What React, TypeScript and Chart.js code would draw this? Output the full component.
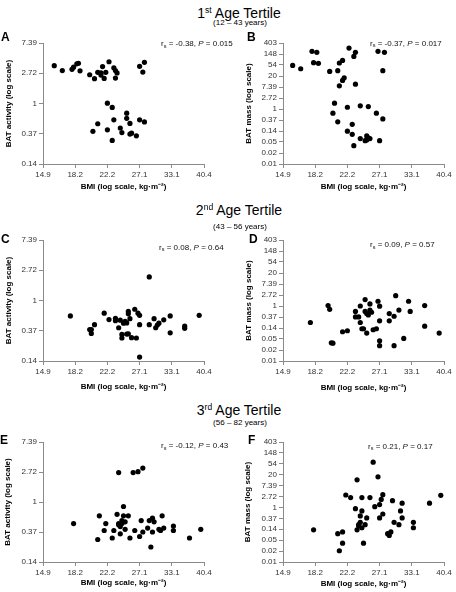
import React, { useEffect, useRef } from 'react';
import { Chart, registerables } from 'chart.js';

Chart.register(...registerables);

const FONT = 'Arial, "Liberation Sans", Helvetica, sans-serif';

// Axis ticks (plotted in natural-log units, labelled with e^n values)
const bmiTickLn = [2.7, 2.9, 3.1, 3.3, 3.5, 3.7];
const bmiTickLabels = ['14.9', '18.2', '22.2', '27.1', '33.1', '40.4'];
const activityTickLn = [-2, -1, 0, 1, 2];
const activityTickLabels = ['0.14', '0.37', '1', '2.72', '7.39'];
const massTickLn = [-5, -4, -3, -2, -1, 0, 1, 2, 3, 4, 5, 6];
const massTickLabels = ['0.01', '0.02', '0.05', '0.14', '0.37', '1', '2.72', '7.39', '20', '54', '148', '403'];

const tertileTitles = [
  { ord: '1', sup: 'st', range: '(12 – 43 years)' },
  { ord: '2', sup: 'nd', range: '(43 – 56 years)' },
  { ord: '3', sup: 'rd', range: '(56 – 82 years)' },
];
const panelLetters = ['A', 'B', 'C', 'D', 'E', 'F'];
const rsValues = ['-0.38', '-0.37', '0.08', '0.09', '-0.12', '0.21'];
const pValues = ['0.015', '0.017', '0.64', '0.57', '0.43', '0.17'];

// [ln BMI, ln BAT activity] — 1st tertile
const panelA: number[][] = [
  [2.77, 1.25], [2.82, 1.09], [2.88, 1.13], [2.89, 1.2], [2.91, 1.31], [2.92, 1.33], [2.93, 1.08],
  [2.99, 0.95], [3.02, 0.82], [3.04, 1.03], [3.06, 0.94], [3.06, 1.01], [3.07, 1.22], [3.08, 0.83],
  [3.09, 1.03], [3.11, 1.38], [3.14, 1.18], [3.15, 1.09], [3.16, 1.01], [3.15, 0.84], [3.3, 1.23],
  [3.32, 1.04], [3.33, 1.36],
  [3.1, 0.01], [3.13, -0.13], [3.22, -0.32], [3.14, -0.54], [3.22, -0.49], [3.24, -0.66], [3.04, -0.67],
  [3.01, -0.92], [3.1, -0.87], [3.18, -0.81], [3.19, -0.96], [3.24, -1.01], [3.25, -0.98], [3.28, -1.07],
  [3.13, -1.22], [3.3, -0.54], [3.33, -0.61],
];
// [ln BMI, ln BAT mass] — 1st tertile
const panelB: number[][] = [
  [2.76, 3.96], [2.81, 3.66], [2.88, 5.24], [2.91, 5.15], [2.89, 4.21], [2.92, 4.15], [2.99, 3.42],
  [3.04, 3.48], [3.05, 4.18], [3.07, 4.42], [3.11, 5.54], [3.14, 4.78], [3.15, 5.15], [3.07, 2.6],
  [3.08, 2.84], [3.05, 2.11], [3.15, 2.26], [3.29, 5.24], [3.33, 5.15], [3.32, 3.48],
  [3.02, 0.53], [3.01, -0.38], [3.1, 0.16], [3.18, 0.29], [3.23, 0.22], [3.28, -0.38], [3.32, -0.9],
  [3.04, -1.17], [3.13, -1.39], [3.1, -2.02], [3.13, -2.3], [3.18, -2.69], [3.14, -3.33], [3.22, -2.45],
  [3.23, -2.63], [3.22, -2.81], [3.24, -2.69], [3.21, -2.88], [3.3, -2.88],
];
// 2nd tertile
const panelC: number[][] = [
  [2.87, -0.51], [2.99, -0.96], [3.0, -0.96], [3.0, -1.09], [3.02, -0.8], [3.08, -0.42], [3.11, -0.63],
  [3.15, -0.59], [3.15, -0.67], [3.17, -0.9], [3.18, -0.65], [3.19, -1.12], [3.19, -1.24], [3.2, -0.75],
  [3.21, -0.69], [3.22, -1.11], [3.22, -0.74], [3.23, -1.1], [3.23, -0.44], [3.23, -0.36], [3.24, -0.6],
  [3.25, -1.23], [3.27, -0.29], [3.28, -1.24], [3.29, -0.42], [3.3, -0.49], [3.3, -0.8], [3.3, -1.87],
  [3.36, 0.78], [3.36, -0.8], [3.39, -0.6], [3.4, -0.9], [3.41, -0.81], [3.42, -0.75], [3.45, -0.64],
  [3.49, -1.07], [3.49, -0.51], [3.58, -0.92], [3.58, -0.85], [3.67, -0.49],
];
const panelD: number[][] = [
  [2.87, -1.5], [2.98, 0.04], [2.99, -0.3], [3.0, -3.35], [3.01, -3.38], [3.07, -2.34], [3.1, -2.25],
  [3.15, -0.49], [3.15, -0.99], [3.17, -0.99], [3.18, 0.0], [3.18, -1.5], [3.19, -2.07], [3.2, -2.07],
  [3.21, 0.58], [3.21, -0.49], [3.22, -0.69], [3.22, -2.46], [3.23, -0.81], [3.24, 0.19], [3.24, -0.37],
  [3.25, -0.57], [3.26, -2.16], [3.28, -2.07], [3.29, 0.43], [3.3, -3.16], [3.3, -0.02], [3.3, -1.35],
  [3.3, -3.61], [3.36, -0.69], [3.36, -1.35], [3.39, -0.93], [3.39, -3.61], [3.4, 0.94], [3.42, -0.37],
  [3.45, -2.95], [3.48, 0.43], [3.49, -0.49], [3.58, 0.04], [3.58, -1.83], [3.67, -2.46],
];
// 3rd tertile
const panelE: number[][] = [
  [2.89, -0.72], [3.04, -1.25], [3.05, -0.46], [3.08, -0.95], [3.09, -0.72], [3.13, -1.2], [3.14, -0.95],
  [3.16, -0.41], [3.17, -0.72], [3.17, 0.98], [3.17, -0.76], [3.18, -0.82], [3.18, -1.06], [3.19, -0.72],
  [3.19, -0.62], [3.2, -0.46], [3.2, -0.15], [3.21, -0.66], [3.21, -0.91], [3.23, -0.46], [3.24, -1.2],
  [3.26, 0.98], [3.27, -0.95], [3.29, 1.01], [3.3, -1.15], [3.31, -0.62], [3.32, 1.13], [3.32, -1.0],
  [3.35, -0.87], [3.36, -0.62], [3.37, -1.5], [3.38, -1.0], [3.38, -0.54], [3.39, -0.66], [3.42, -0.91],
  [3.43, -0.95], [3.44, -0.46], [3.45, -0.87], [3.51, -0.8], [3.51, -0.95], [3.61, -1.2], [3.68, -0.91],
];
const panelF: number[][] = [
  [2.89, -2.05], [3.04, -2.4], [3.07, -2.24], [3.05, -3.97], [3.09, 1.14], [3.12, 0.91], [3.07, -3.27],
  [3.15, -0.11], [3.16, -2.05], [3.16, 2.53], [3.17, -1.58], [3.18, -1.36], [3.17, -1.69], [3.18, -0.78],
  [3.19, -0.32], [3.19, 0.91], [3.19, -1.86], [3.2, -3.27], [3.21, -1.58], [3.22, -0.96], [3.24, 0.91],
  [3.26, 4.15], [3.27, 0.07], [3.29, 2.81], [3.3, 0.26], [3.3, -0.96], [3.31, 0.74], [3.32, 1.17],
  [3.32, -0.6], [3.35, -2.4], [3.36, -2.56], [3.37, -2.24], [3.38, 0.62], [3.39, -1.36], [3.42, -1.58],
  [3.43, -0.32], [3.44, 0.39], [3.44, -0.96], [3.51, -1.36], [3.51, -1.86], [3.61, 0.39], [3.68, 1.11],
];

const LH = 8 * 1.2;

type PanelSpec = {
  points: number[][];
  mass: boolean;
  cl: number; ct: number; cw: number; ch: number; // canvas box
  pl: number; pt: number; pr: number; pb: number; // plot area
  xTitleY: number; yTitleX: number;
};

function labelFor(ticks: number[], labels: string[], v: number) {
  const i = ticks.findIndex((t) => Math.abs(t - v) < 1e-6);
  return i >= 0 ? labels[i] : '';
}

function Panel({ spec }: { spec: PanelSpec }) {
  const ref = useRef<HTMLCanvasElement | null>(null);
  useEffect(() => {
    const s = spec;
    const yTicks = s.mass ? massTickLn : activityTickLn;
    const yLabels = s.mass ? massTickLabels : activityTickLabels;
    const yAxisW = s.pl - s.cl;
    const xAxisH = s.ct + s.ch - s.pb;
    const axisColor = '#8a8a8a';
    const chart = new Chart(ref.current as HTMLCanvasElement, {
      type: 'scatter',
      data: {
        datasets: [
          {
            data: s.points.map(([x, y]) => ({ x, y })),
            backgroundColor: '#000',
            borderColor: '#000',
            borderWidth: 0,
            pointRadius: 2.6,
            pointHoverRadius: 2.6,
          },
        ],
      },
      options: {
        animation: false,
        responsive: false,
        events: [],
        layout: { padding: { left: 0, top: s.pt - s.ct, right: s.cl + s.cw - s.pr, bottom: 0 } },
        plugins: { legend: { display: false }, tooltip: { enabled: false } },
        scales: {
          x: {
            type: 'linear',
            position: 'bottom',
            min: bmiTickLn[0],
            max: bmiTickLn[bmiTickLn.length - 1],
            afterBuildTicks: (sc: any) => {
              sc.ticks = bmiTickLn.map((v) => ({ value: v }));
            },
            afterFit: (sc: any) => {
              sc.height = xAxisH;
            },
            ticks: {
              autoSkip: false,
              maxRotation: 0,
              padding: 1.5,
              color: '#333',
              font: { family: FONT, size: 8 },
              callback: (v: any) => labelFor(bmiTickLn, bmiTickLabels, Number(v)),
            },
            grid: { display: true, drawOnChartArea: false, drawTicks: true, tickLength: 4, color: axisColor },
            border: { display: true, color: axisColor, width: 1 },
            title: {
              display: true,
              text: 'BMI (log scale, kg·m⁻²)',
              color: '#000',
              font: { family: FONT, size: 8, weight: 'bold' },
              padding: { top: 0, bottom: xAxisH - LH / 2 - (s.xTitleY - s.pb) },
            },
          },
          y: {
            type: 'linear',
            position: 'left',
            min: yTicks[0],
            max: yTicks[yTicks.length - 1],
            afterBuildTicks: (sc: any) => {
              sc.ticks = yTicks.map((v) => ({ value: v }));
            },
            afterFit: (sc: any) => {
              sc.width = yAxisW;
            },
            ticks: {
              autoSkip: false,
              padding: 2,
              color: '#333',
              font: { family: FONT, size: 8 },
              callback: (v: any) => labelFor(yTicks, yLabels, Number(v)),
            },
            grid: { display: true, drawOnChartArea: false, drawTicks: true, tickLength: 4, color: axisColor },
            border: { display: true, color: axisColor, width: 1 },
            title: {
              display: true,
              text: s.mass ? 'BAT mass (log scale)' : 'BAT activity (log scale)',
              color: '#000',
              font: { family: FONT, size: 8, weight: 'bold' },
              padding: { top: s.yTitleX - s.cl - LH / 2, bottom: 0 },
            },
          },
        },
      },
    } as any);
    return () => chart.destroy();
  }, [spec]);
  return (
    <canvas
      ref={ref}
      width={spec.cw}
      height={spec.ch}
      style={{ position: 'absolute', left: spec.cl, top: spec.ct, width: spec.cw, height: spec.ch }}
    />
  );
}

const specs: PanelSpec[] = [
  { points: panelA, mass: false, cl: 0, ct: 28, cw: 228, ch: 170, pl: 43, pt: 43, pr: 204, pb: 164, xTitleY: 187, yTitleX: 9 },
  { points: panelB, mass: true, cl: 228, ct: 28, cw: 228, ch: 170, pl: 283, pt: 43, pr: 444, pb: 164, xTitleY: 187, yTitleX: 248.5 },
  { points: panelC, mass: false, cl: 0, ct: 228, cw: 228, ch: 167, pl: 43, pt: 240, pr: 204, pb: 361, xTitleY: 387, yTitleX: 8.5 },
  { points: panelD, mass: true, cl: 228, ct: 228, cw: 228, ch: 167, pl: 283, pt: 240, pr: 444, pb: 361, xTitleY: 388, yTitleX: 248.5 },
  { points: panelE, mass: false, cl: 0, ct: 430, cw: 228, ch: 166, pl: 43, pt: 442, pr: 204, pb: 562, xTitleY: 583, yTitleX: 8 },
  { points: panelF, mass: true, cl: 228, ct: 430, cw: 228, ch: 166, pl: 283, pt: 442, pr: 444, pb: 562, xTitleY: 584, yTitleX: 248 },
];

const titleBaselines = [18, 215, 415];
const subtitleBaselines = [26, 230, 426];
const letterPos = [
  [1, 41.5], [247, 41.5], [1, 243], [249, 243.5], [0, 444], [248, 444.5],
];
const annotPos = [
  [161, 47], [370, 46.3], [159, 250.5], [370, 248], [161, 449], [368, 449.5],
];

// place a single line of text so that its baseline lands at y (Arial metrics)
function baseTop(baseline: number, size: number, lh: number) {
  return baseline - lh / 2 - 0.3465 * size;
}

export default function App() {
  return (
    <div
      style={{
        position: 'absolute',
        left: 0,
        top: 0,
        width: 456,
        height: 592,
        overflow: 'hidden',
        background: '#fff',
        fontFamily: FONT,
        color: '#000',
      }}
    >
      {specs.map((s, i) => (
        <Panel key={i} spec={s} />
      ))}
      {tertileTitles.map((t, i) => (
        <React.Fragment key={'t' + i}>
          <div
            style={{
              position: 'absolute',
              left: 139,
              width: 200,
              top: baseTop(titleBaselines[i], 14, 16),
              height: 16,
              lineHeight: '16px',
              fontSize: 14,
              textAlign: 'center',
              whiteSpace: 'nowrap',
            }}
          >
            {t.ord}
            <span style={{ fontSize: 8.5, position: 'relative', top: -5 }}>{t.sup}</span> Age Tertile
          </div>
          <div
            style={{
              position: 'absolute',
              left: 140,
              width: 200,
              top: baseTop(subtitleBaselines[i], 8, 10),
              height: 10,
              lineHeight: '10px',
              fontSize: 8,
              textAlign: 'center',
              whiteSpace: 'nowrap',
            }}
          >
            {t.range}
          </div>
        </React.Fragment>
      ))}
      {panelLetters.map((L, i) => (
        <div
          key={'l' + i}
          style={{
            position: 'absolute',
            left: letterPos[i][0],
            top: baseTop(letterPos[i][1], 12, 14),
            height: 14,
            lineHeight: '14px',
            fontSize: 12,
            fontWeight: 'bold',
          }}
        >
          {L}
        </div>
      ))}
      {rsValues.map((r, i) => (
        <div
          key={'a' + i}
          style={{
            position: 'absolute',
            left: annotPos[i][0],
            top: baseTop(annotPos[i][1], 8, 10),
            height: 10,
            lineHeight: '10px',
            fontSize: 8,
            whiteSpace: 'nowrap',
            color: '#111',
          }}
        >
          r<span style={{ fontSize: 5.5, position: 'relative', top: 1.5 }}>s</span> = {r}, <i>P</i> = {pValues[i]}
        </div>
      ))}
    </div>
  );
}
